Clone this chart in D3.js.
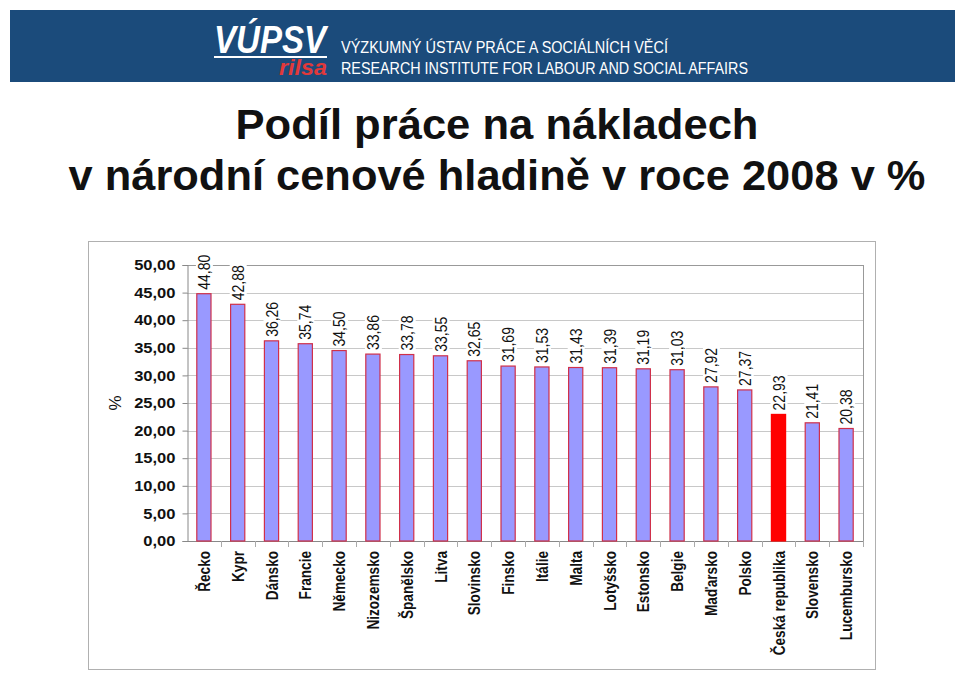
<!DOCTYPE html>
<html>
<head>
<meta charset="utf-8">
<script src="https://cdn.jsdelivr.net/npm/d3@7"></script>
<style>
  body { margin: 0; background: #fff; }
  svg { display: block; font-family: "Liberation Sans", Arial, sans-serif; }
</style>
</head>
<body>
<svg id="chart" width="959" height="673"></svg>
<script>
// data
const countries = ["Řecko", "Kypr", "Dánsko", "Francie", "Německo", "Nizozemsko", "Španělsko", "Litva",
  "Slovinsko", "Finsko", "Itálie", "Malta", "Lotyšsko", "Estonsko", "Belgie", "Maďarsko", "Polsko",
  "Česká republika", "Slovensko", "Lucembursko"];
const shares = [44.80, 42.88, 36.26, 35.74, 34.50, 33.86, 33.78, 33.55, 32.65, 31.69, 31.53, 31.43,
  31.39, 31.19, 31.03, 27.92, 27.37, 22.93, 21.41, 20.38];
const highlight = "Česká republika";
const yTicks = [0, 5, 10, 15, 20, 25, 30, 35, 40, 45, 50];

const svg = d3.select("#chart");
const fmt = v => d3.format(".2f")(v).replace(".", ",");

// the chart in the picture is a bit stretched sideways, so squeeze/stretch text to its length
function fitLength(sel, k) {
  sel.each(function () {
    const len = this.getComputedTextLength();
    d3.select(this).attr("textLength", len * k).attr("lengthAdjust", "spacingAndGlyphs");
  });
}

// --- header bar ---
svg.append("rect").attr("x", 10).attr("y", 10).attr("width", 945).attr("height", 72)
  .attr("fill", "#1b4b7b");
svg.append("text").attr("x", 214).attr("y", 53).attr("fill", "#fff")
  .attr("font-size", 38).attr("font-weight", "bold").attr("font-style", "italic")
  .attr("textLength", 112).attr("lengthAdjust", "spacingAndGlyphs").text("VÚPSV");
svg.append("rect").attr("x", 214).attr("y", 56).attr("width", 113).attr("height", 2).attr("fill", "#fff");
svg.append("text").attr("x", 279).attr("y", 75).attr("fill", "#e2393a")
  .attr("font-size", 22).attr("font-weight", "bold").attr("font-style", "italic")
  .attr("textLength", 48).attr("lengthAdjust", "spacingAndGlyphs").text("rilsa");
svg.append("text").attr("x", 341).attr("y", 53).attr("fill", "#fff")
  .attr("font-size", 17).attr("font-family", "'Liberation Sans Narrow', 'Liberation Sans', sans-serif")
  .attr("textLength", 327).attr("lengthAdjust", "spacingAndGlyphs")
  .text("VÝZKUMNÝ ÚSTAV PRÁCE A SOCIÁLNÍCH VĚCÍ");
svg.append("text").attr("x", 341).attr("y", 74).attr("fill", "#fff")
  .attr("font-size", 17).attr("font-family", "'Liberation Sans Narrow', 'Liberation Sans', sans-serif")
  .attr("textLength", 407).attr("lengthAdjust", "spacingAndGlyphs")
  .text("RESEARCH INSTITUTE FOR LABOUR AND SOCIAL AFFAIRS");

// --- title ---
svg.append("text").attr("x", 497).attr("y", 139).attr("text-anchor", "middle")
  .attr("font-size", 43).attr("font-weight", "bold").attr("fill", "#111")
  .attr("textLength", 523).attr("lengthAdjust", "spacingAndGlyphs")
  .text("Podíl práce na nákladech");
svg.append("text").attr("x", 497).attr("y", 190).attr("text-anchor", "middle")
  .attr("font-size", 43).attr("font-weight", "bold").attr("fill", "#111")
  .attr("textLength", 857).attr("lengthAdjust", "spacingAndGlyphs")
  .text("v národní cenové hladině v roce 2008 v %");

// --- chart frame ---
svg.append("rect").attr("x", 88.5).attr("y", 241.5).attr("width", 787).attr("height", 428)
  .attr("fill", "none").attr("stroke", "#b0b0b0");

const plotL = 187, plotR = 863, plotT = 265, plotB = 541;
const x = d3.scaleBand().domain(countries).range([plotL, plotR]);
const y = d3.scaleLinear().domain([0, 50]).range([plotB, plotT]);

// gridlines
svg.append("g").selectAll("line").data(yTicks.slice(1)).join("line")
  .attr("x1", plotL).attr("x2", plotR)
  .attr("y1", d => Math.round(y(d)) + 0.5).attr("y2", d => Math.round(y(d)) + 0.5)
  .attr("stroke", "#c8c8c8");
// plot area border
svg.append("line").attr("x1", plotL).attr("x2", plotR + 0.5).attr("y1", plotT + 0.5).attr("y2", plotT + 0.5)
  .attr("stroke", "#999");
svg.append("line").attr("x1", plotR + 0.5).attr("x2", plotR + 0.5).attr("y1", plotT).attr("y2", plotB)
  .attr("stroke", "#999");

// y axis
const yAxis = svg.append("g").attr("transform", `translate(${plotL + 0.5},0)`)
  .call(d3.axisLeft(y).tickValues(yTicks).tickFormat(fmt).tickSize(5).tickPadding(7));
yAxis.select(".domain").attr("stroke", "#888");
yAxis.selectAll(".tick line").attr("stroke", "#888");
yAxis.selectAll(".tick text").attr("font-size", 14.5).attr("font-weight", "bold")
  .attr("fill", "#111").attr("font-family", "'Liberation Sans', Arial, sans-serif")
  .call(fitLength, 1.14);

svg.append("text").attr("transform", "translate(121,403) rotate(-90)").attr("text-anchor", "middle")
  .attr("font-size", 17).attr("fill", "#111").text("%");

// x axis (ticks between categories)
svg.append("line").attr("x1", plotL).attr("x2", plotR + 0.5).attr("y1", plotB + 0.5).attr("y2", plotB + 0.5)
  .attr("stroke", "#888");
svg.append("g").selectAll("line").data(countries).join("line")
  .attr("x1", d => Math.round(x(d) + x.bandwidth()) + 0.5)
  .attr("x2", d => Math.round(x(d) + x.bandwidth()) + 0.5)
  .attr("y1", plotB).attr("y2", plotB + 6).attr("stroke", "#aaa");

// bars
const barW = x.bandwidth() * 0.42;
svg.append("g").selectAll("rect").data(countries).join("rect")
  .attr("x", (d) => x(d) + (x.bandwidth() - barW) / 2)
  .attr("y", (d, i) => y(shares[i]))
  .attr("width", barW)
  .attr("height", (d, i) => plotB - y(shares[i]))
  .attr("fill", d => d === highlight ? "#ff0000" : "#9999ff")
  .attr("stroke", d => d === highlight ? "#ff0000" : "#d0304a")
  .attr("stroke-width", 1.2);

// value labels with white background
const labels = svg.append("g").selectAll("g").data(countries).join("g")
  .attr("transform", (d, i) => `translate(${x(d) + x.bandwidth() / 2 + 6},${y(shares[i]) - 4}) rotate(-90)`);
labels.append("rect").attr("x", -1).attr("y", -14).attr("width", 37).attr("height", 17).attr("fill", "#fff");
labels.append("text").attr("font-size", 17).attr("fill", "#111")
  .attr("textLength", 35).attr("lengthAdjust", "spacingAndGlyphs")
  .text((d, i) => fmt(shares[i]));

// category labels
svg.append("g").selectAll("text").data(countries).join("text")
  .attr("transform", d => `translate(${x(d) + x.bandwidth() / 2 + 6},551) rotate(-90)`)
  .attr("text-anchor", "end").attr("font-size", 16).attr("font-weight", "bold").attr("fill", "#111")
  .text(d => d)
  .call(fitLength, 0.85);
</script>
</body>
</html>
